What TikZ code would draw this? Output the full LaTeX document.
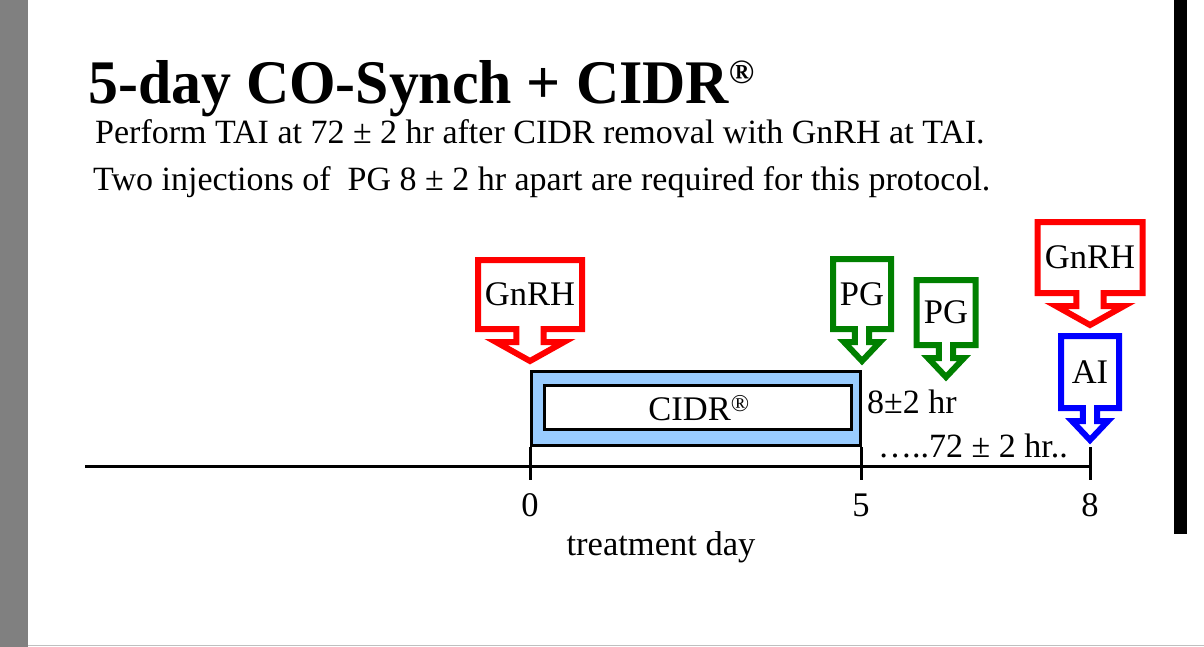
\documentclass[tikz,border=0pt]{standalone}
\usepackage{fontspec}
\setmainfont{Liberation Serif}
\usetikzlibrary{positioning}
\definecolor{cidrblue}{RGB}{153,204,255}
\definecolor{gnrhred}{RGB}{255,0,0}
\definecolor{pggreen}{RGB}{0,128,0}
\definecolor{aiblue}{RGB}{0,0,255}
\definecolor{sidegray}{RGB}{128,128,128}

\tikzset{
  lbl/.style={inner sep=0pt,font=\fontsize{34.5}{40}\selectfont},
  txt/.style={inner sep=0pt,anchor=base west,font=\fontsize{34}{40}\selectfont},
  calloutline/.style={line width=6pt,fill=white},
  axisline/.style={line width=3pt},
}

% down arrow callout: name, colour, x, top, bottom, half width, head half width, text
\newcommand{\callout}[8]{%
  \draw[calloutline,draw=#2] (#3-#6,#4) -- (#3+#6,#4) -- (#3+#6,#5) -- (#3+0.4*#7,#5)
    -- (#3+0.4*#7,#5+13) -- (#3+#7,#5+13) -- (#3,#5+32) -- (#3-#7,#5+13)
    -- (#3-0.4*#7,#5+13) -- (#3-0.4*#7,#5) -- (#3-#6,#5) -- cycle;
  \node[lbl] (#1) at (#3,{(#4+#5)/2}) {#8};
}

\begin{document}
\begin{tikzpicture}[x=1pt,y=-1pt]
    \useasboundingbox (0,0) rectangle (1204,647);
    % page
    \fill[white] (0,0) rectangle (1204,647);
    \fill[sidegray] (0,0) rectangle (28,647);
    \fill[black] (1174,0) rectangle (1187,534);
    \draw[black!25,line width=1.5pt] (28,645.5) -- (1204,645.5);

    % Title and notes
    \node[anchor=base west,inner sep=0pt,font=\bfseries\fontsize{62}{70}\selectfont] (title) at (88,104)
        {\scalebox{0.965}[1]{5-day CO-Synch + CIDR}\raisebox{20pt}{\fontsize{34}{34}\selectfont\textregistered}};
    \node[txt] (note1) at (95,144) {Perform TAI at 72 ± 2 hr after CIDR removal with GnRH at TAI.};
    \node[txt] (note2) at (93,190) {Two injections of~ PG 8 ± 2 hr apart are required for this protocol.};

    % CIDR insert
    \draw[line width=3pt,fill=cidrblue] (531.5,371.5) rectangle (860.5,445.5);
    \draw[line width=3pt,fill=white] (544.5,385.5) rectangle (851.5,429.5);
    \node[lbl] (cidr) at (699,408) {CIDR\textsuperscript{\textregistered}};

    % Time axis
    \coordinate (axisL) at (85,466);
    \coordinate (axisR) at (1090,466);
    \draw[axisline] (axisL) -- (axisR);
    \foreach \x/\d in {530/0,861/5,1090/8} {
        \coordinate (tt\d) at (\x,447);
        \coordinate (tb\d) at (\x,480);
        \draw[axisline] (tt\d) -- (tb\d);
        \node[lbl] (day\d) at (\x,505) {\d};
    }
    \node[lbl] (daylabel) at (661,547) {treatment day};

    % Injections
    \callout{gnrh1}{gnrhred}{530}{260}{329}{52}{34}{GnRH}
    \callout{pg1}{pggreen}{862}{259}{329}{29}{18}{PG}
    \callout{pg2}{pggreen}{946}{280}{345}{29.5}{18}{PG}
    \callout{gnrh2}{gnrhred}{1090}{222}{293}{52.5}{34}{GnRH}
    \callout{ai}{aiblue}{1090}{336}{408}{29}{18}{AI}

    % Intervals
    \node[txt] (pgint) at (867,413) {8±2 hr};
    \node[txt] (aiint) at (878,457) {…..72 ± 2 hr..};
\end{tikzpicture}
\end{document}
